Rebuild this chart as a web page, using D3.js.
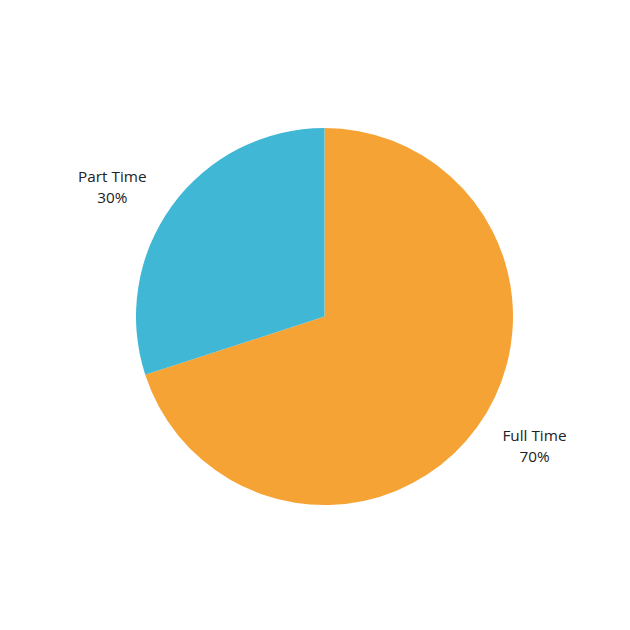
<!DOCTYPE html>
<html>
<head>
<meta charset="utf-8">
<script src="https://cdn.jsdelivr.net/npm/d3@7"></script>
<style>
  body { margin: 0; background: #fff; }
  text { font-family: "Open Sans", "Noto Sans", sans-serif; }
</style>
</head>
<body>
<div id="chart"></div>
<script>
// data
const categories = ["Full Time", "Part Time"];
const values = [70, 30];
const colors = ["#F6A336", "#41B7D6"];

const width = 630, height = 630;
const cx = 324.5, cy = 316.5, radius = 188.5;

const svg = d3.select("#chart").append("svg")
    .attr("width", width)
    .attr("height", height);

const g = svg.append("g").attr("transform", `translate(${cx},${cy})`);

const pie = d3.pie().sort(null).value(d => d.value);
const arcs = pie(categories.map((c, i) => ({ label: c, value: values[i], color: colors[i] })));

const arc = d3.arc().innerRadius(0).outerRadius(radius);

g.selectAll("path")
    .data(arcs)
    .enter()
    .append("path")
    .attr("d", arc)
    .attr("fill", d => d.data.color);

// labels: nearest corner of the text block sits at a fixed radius along the mid-angle
const labelR = 220;
const total = d3.sum(values);
const label = g.selectAll("text.lbl")
    .data(arcs)
    .enter()
    .append("text")
    .attr("class", "lbl")
    .attr("font-size", 15.3)
    .attr("fill", "#222")
    .attr("text-anchor", "middle")
    .each(function(d) {
        const mid = (d.startAngle + d.endAngle) / 2;
        const x = labelR * Math.sin(mid);
        const y = -labelR * Math.cos(mid);
        const t = d3.select(this);
        t.append("tspan").attr("x", x).attr("y", y - 5).text(d.data.label);
        t.append("tspan").attr("x", x).attr("y", y + 16)
            .text(Math.round(d.data.value / total * 100) + "%");
        // shift so the near edge lines up at x
        const w = this.getBBox().width;
        const shift = (x < 0 ? -1 : 1) * w / 2;
        t.selectAll("tspan").attr("x", x + shift);
    });
</script>
</body>
</html>
